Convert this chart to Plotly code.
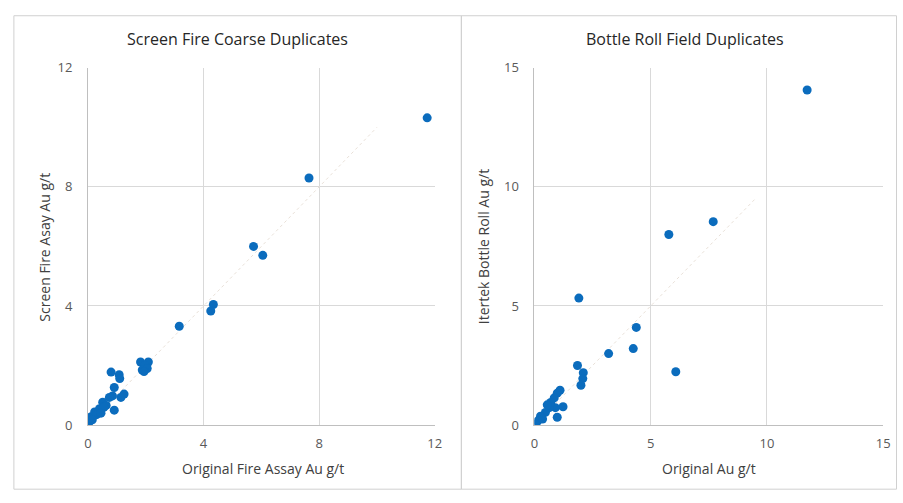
import plotly.graph_objects as go

# Left chart: Screen Fire Coarse Duplicates
sf_original = [11.74, 7.65, 5.73, 6.05, 4.34, 4.25, 3.16,
               1.82, 2.09, 1.97, 1.88, 2.05, 1.94,
               0.80, 1.08, 1.10, 0.91, 1.25, 1.14, 0.85, 0.74, 0.51, 0.63,
               0.91, 0.40, 0.23, 0.11, 0.00, 0.06, 0.02, 0.30, 0.15, 0.55, 0.45]
sf_screen = [10.32, 8.30, 6.00, 5.70, 4.05, 3.83, 3.32,
             2.12, 2.12, 2.01, 1.85, 1.90, 1.80,
             1.78, 1.69, 1.56, 1.26, 1.04, 0.93, 0.98, 0.93, 0.77, 0.66,
             0.50, 0.55, 0.44, 0.28, 0.12, 0.23, 0.06, 0.35, 0.18, 0.60, 0.40]

# Right chart: Bottle Roll Field Duplicates
br_original = [11.73, 7.69, 5.78, 1.91, 4.38, 4.25, 3.19, 6.08,
               1.85, 2.10, 2.08, 2.00, 1.10, 0.98, 0.85, 1.23, 0.90, 0.98,
               0.64, 0.47, 0.26, 0.13, 0.02, 0.70, 0.35, 0.55]
br_bottle = [14.07, 8.54, 8.00, 5.33, 4.10, 3.21, 3.00, 2.24,
             2.50, 2.20, 1.95, 1.67, 1.46, 1.34, 1.14, 0.77, 0.73, 0.33,
             0.73, 0.53, 0.37, 0.16, 0.04, 0.95, 0.25, 0.85]

left_ticks = [0, 4, 8, 12]
right_ticks = [0, 5, 10, 15]

W, H = 903, 503
def px(x):
    return x / W
def py(y):
    return 1 - y / H

blue = "#0B6CBD"
grid = "#d9d9d9"
tickc = "#595959"
font_fam = "Open Sans, Lato, Liberation Sans, sans-serif"

fig = go.Figure()
# faint 1:1 lines
fig.add_trace(go.Scatter(x=[0, 10], y=[0, 10], mode="lines", xaxis="x", yaxis="y",
                         line=dict(color="#e8e0d8", width=1, dash="dot"), hoverinfo="skip"))
fig.add_trace(go.Scatter(x=[0, 9.5], y=[0, 9.5], mode="lines", xaxis="x2", yaxis="y2",
                         line=dict(color="#e8e0d8", width=1, dash="dot"), hoverinfo="skip"))
fig.add_trace(go.Scatter(x=sf_original, y=sf_screen, mode="markers", xaxis="x", yaxis="y",
                         marker=dict(color=blue, size=9, line=dict(width=0))))
fig.add_trace(go.Scatter(x=br_original, y=br_bottle, mode="markers", xaxis="x2", yaxis="y2",
                         marker=dict(color=blue, size=9, line=dict(width=0))))

ax_common = dict(showgrid=True, gridcolor=grid, gridwidth=1, zeroline=False,
                 showline=True, linecolor="#bfbfbf", linewidth=1,
                 tickfont=dict(family=font_fam, size=13, color=tickc),
                 ticks="", fixedrange=True)

ydom = [py(431.5), py(61)]

def ann(text, x, y, size, color, angle=0):
    return dict(text=text, x=px(x), y=py(y), xref="paper", yref="paper",
                xanchor="center", yanchor="middle", showarrow=False, textangle=angle,
                font=dict(family=font_fam, size=size, color=color))

fig.update_layout(
    width=W, height=H, margin=dict(l=0, r=0, t=0, b=0),
    paper_bgcolor="white", plot_bgcolor="white", showlegend=False,
    xaxis=dict(domain=[px(85), px(436)], range=[0, 12], tickvals=left_ticks,
               anchor="y", ticklabelstandoff=6, **ax_common),
    yaxis=dict(domain=ydom, range=[0, 12], tickvals=left_ticks,
               anchor="x", ticklabelstandoff=12, **ax_common),
    xaxis2=dict(domain=[px(537), px(890)], range=[0, 15], tickvals=right_ticks,
                anchor="y2", ticklabelstandoff=6, **ax_common),
    yaxis2=dict(domain=ydom, range=[0, 15], tickvals=right_ticks,
                anchor="x2", ticklabelstandoff=12, **ax_common),
    shapes=[
        dict(type="rect", xref="paper", yref="paper", x0=px(10), x1=px(463), y0=py(498), y1=py(7),
             line=dict(color="#d0d0d0", width=1)),
        dict(type="rect", xref="paper", yref="paper", x0=px(463), x1=px(903.5), y0=py(498), y1=py(7),
             line=dict(color="#d0d0d0", width=1)),
    ],
    annotations=[
        ann("Screen Fire Coarse Duplicates", 236, 31, 16, "#262626"),
        ann("Bottle Roll Field Duplicates", 689, 31, 16, "#262626"),
        ann("Original Fire Assay Au g/t", 262, 477, 14, "#404040"),
        ann("Original Au g/t", 714, 477, 14, "#404040"),
        ann("Screen Fire Asay Au g/t", 41, 247, 14, "#404040", -90),
        ann("Itertek Bottle Roll Au g/t", 485, 247, 14, "#404040", -90),
    ],
)

fig.write_html("out.html")
